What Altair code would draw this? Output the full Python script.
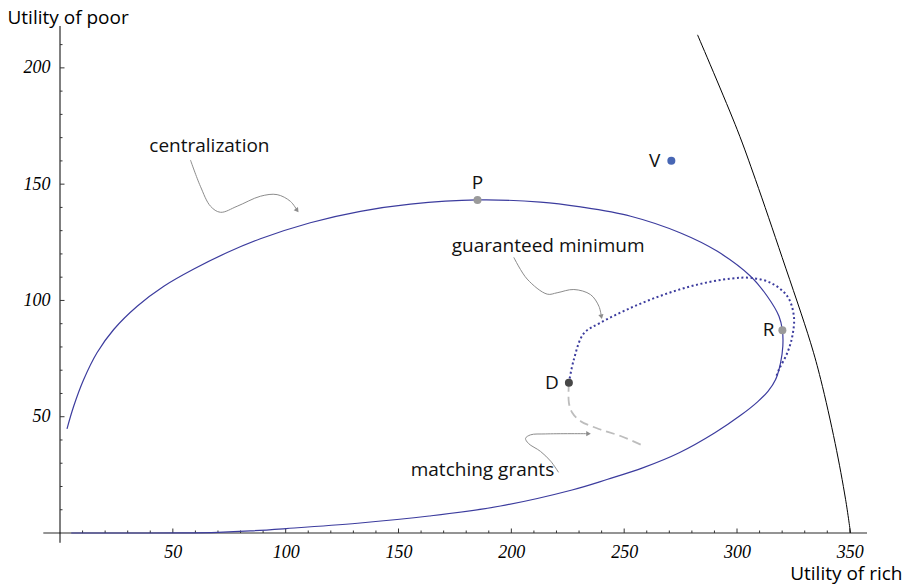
import altair as alt
import pandas as pd

# ---------------- data ----------------
# centralization curve (solid)
cent_x = [3.1, 6.1, 10.5, 16.4, 23.8, 34.2, 46.0, 59.3, 74.1, 88.8, 110.9, 133.1, 155.3,
          185.0, 212.9, 230.7, 252.9, 275.0, 291.3, 306.0, 313.4, 318.6, 320.1, 320.3,
          319.3, 317.1, 313.8, 309.1, 301.6, 290.2, 274.4, 258.5, 242.7, 226.9, 195.2,
          163.6, 131.9, 100.2, 84.4, 70.0, 55.0, 30.0, 5.0]
cent_y = [44.8, 54.6, 66.0, 77.5, 87.5, 97.5, 106.1, 113.5, 120.6, 126.5, 133.4, 138.3, 141.4,
          143.2, 142.3, 140.2, 136.2, 129.0, 121.1, 110.4, 101.8, 93.2, 87.2, 80.3,
          73.2, 66.0, 61.0, 56.4, 50.6, 43.1, 34.5, 28.1, 23.1, 18.5, 11.6,
          7.3, 4.2, 1.9, 0.9, 0.3, 0.05, 0.0, 0.0]

# guaranteed minimum (dotted)
gm_x = [225.5, 227.7, 232.1, 239.5, 252.9, 267.6, 282.4, 297.2, 306.0, 314.9, 322.3, 325.2,
        324.5, 322.3, 318.6, 317.1]
gm_y = [64.6, 74.6, 85.8, 90.4, 96.8, 102.5, 106.8, 109.4, 109.7, 107.6, 101.8, 93.2,
        84.6, 77.5, 70.3, 66.5]

# matching grants (dashed)
mg_x = [225.5, 225.5, 227.0, 230.7, 239.5, 248.4, 258.0]
mg_y = [64.6, 56.0, 51.7, 48.1, 44.5, 41.7, 37.7]

# frontier (black)
fr_x = [282.5, 300.1, 308.2, 320.0, 332.6, 337.1, 343.5, 348.1, 350.3]
fr_y = [214.2, 173.4, 151.9, 118.5, 81.8, 66.0, 38.5, 14.5, 0.0]

# labelled points
pt_name = ["P", "R", "D", "V"]
pt_x = [185.0, 320.1, 225.5, 270.9]
pt_y = [143.2, 87.2, 64.6, 160.1]
pt_color = ["#9a9a9a", "#9a9a9a", "#474747", "#4766b4"]

# annotations
ann_text = ["centralization", "guaranteed minimum", "matching grants"]
ann_x = [66.2, 216.3, 187.2]
ann_y = [166.2, 123.3, 26.9]

# annotation arrows
arr1_x = [57.8, 62.2, 66.7, 71.1, 78.5, 88.8, 96.2, 102.1, 105.1]
arr1_y = [160.4, 149.1, 140.5, 137.9, 140.5, 144.8, 145.5, 142.6, 138.7]
arr2_x = [201.1, 207.0, 215.9, 220.3, 227.7, 235.1, 238.8, 239.9]
arr2_y = [118.5, 109.2, 102.7, 103.3, 104.7, 102.5, 97.5, 93.0]
arr3_x = [220.9, 217.5, 212.9, 207.6, 206.3, 208.5, 215.2, 234.2]
arr3_y = [26.1, 30.8, 35.1, 38.5, 40.7, 42.2, 42.6, 42.7]
head_x = [105.1, 239.9, 234.2]
head_y = [138.7, 93.0, 42.7]
head_angle = [143, 167, 90]

# axes
x_major = [50, 100, 150, 200, 250, 300, 350]
x_minor = [v for v in range(10, 360, 10) if v % 50 != 0]
y_major = [50, 100, 150, 200]
y_minor = [v for v in range(10, 220, 10) if v % 50 != 0]
x_domain = [0, 357.6]
y_domain = [0, 218]
x_line = [-7.4, 357.6]
y_line = [-4.2, 218]

# ---------------- chart ----------------
BLUE = "#3c3c9e"
GRAY = "#8c8c8c"
SANS = "Open Sans"

xs = alt.Scale(domain=x_domain, nice=False, zero=False)
ys = alt.Scale(domain=y_domain, nice=False, zero=False)

x_axis = alt.Axis(values=x_major, domain=False, ticks=False, grid=False,
                  labelFont="Liberation Serif", labelFontStyle="italic", labelFontSize=18,
                  labelColor="black", labelPadding=10, labelFlush=False, labelOverlap=False,
                  title="Utility of rich", titleFont=SANS, titleFontSize=19,
                  titleFontWeight="normal", titleColor="black", titleX=842, titleY=46,
                  titleAlign="right", titleBaseline="alphabetic")
y_axis = alt.Axis(values=y_major, domain=False, ticks=False, grid=False,
                  labelFont="Liberation Serif", labelFontStyle="italic", labelFontSize=18,
                  labelColor="black", labelPadding=10, labelFlush=False, labelOverlap=False,
                  title="Utility of poor", titleFont=SANS, titleFontSize=19,
                  titleFontWeight="normal", titleColor="black", titleAngle=0,
                  titleX=-53, titleY=-2.5, titleAlign="left", titleBaseline="alphabetic")


def X(f="x"):
    return alt.X(f"{f}:Q", scale=xs, axis=x_axis)


def Y(f="y"):
    return alt.Y(f"{f}:Q", scale=ys, axis=y_axis)


def path_df(xv, yv, group="a"):
    return pd.DataFrame({"x": xv, "y": yv, "i": list(range(len(xv))), "g": group})


layers = []

# axis lines
layers.append(alt.Chart(pd.DataFrame({"x": [x_line[0]], "x2": [x_line[1]], "y": [0]}))
              .mark_rule(color="#707070", strokeWidth=1.5)
              .encode(x=X(), x2="x2:Q", y=Y()))
layers.append(alt.Chart(pd.DataFrame({"y": [y_line[0]], "y2": [y_line[1]], "x": [0]}))
              .mark_rule(color="black", strokeWidth=1)
              .encode(x=X(), y=Y(), y2="y2:Q"))

# ticks (pointing inward)
for vals, size in [(x_minor, 2.5), (x_major, 4.5)]:
    layers.append(alt.Chart(pd.DataFrame({"x": vals, "y": 0}))
                  .mark_tick(orient="vertical", size=size, thickness=1, yOffset=-size / 2,
                             color="#333333", opacity=1)
                  .encode(x=X(), y=Y()))
for vals, size in [(y_minor, 2.5), (y_major, 4.5)]:
    layers.append(alt.Chart(pd.DataFrame({"y": vals, "x": 0}))
                  .mark_tick(orient="horizontal", size=size, thickness=1, xOffset=size / 2,
                             color="#333333", opacity=1)
                  .encode(x=X(), y=Y()))

# frontier
layers.append(alt.Chart(path_df(fr_x, fr_y))
              .mark_line(color="black", strokeWidth=1, interpolate="catmull-rom")
              .encode(x=X(), y=Y(), order="i:Q"))

# centralization
layers.append(alt.Chart(path_df(cent_x, cent_y))
              .mark_line(color=BLUE, strokeWidth=1.2, interpolate="catmull-rom")
              .encode(x=X(), y=Y(), order="i:Q"))

# guaranteed minimum
layers.append(alt.Chart(path_df(gm_x, gm_y))
              .mark_line(color=BLUE, strokeWidth=2, strokeDash=[2, 2.6],
                         interpolate="catmull-rom")
              .encode(x=X(), y=Y(), order="i:Q"))

# matching grants
layers.append(alt.Chart(path_df(mg_x, mg_y))
              .mark_line(color="#bdbdbd", strokeWidth=1.8, strokeDash=[9, 5],
                         interpolate="catmull-rom")
              .encode(x=X(), y=Y(), order="i:Q"))

# arrows
arrows = pd.concat([path_df(arr1_x, arr1_y, "a1"), path_df(arr2_x, arr2_y, "a2"),
                    path_df(arr3_x, arr3_y, "a3")])
layers.append(alt.Chart(arrows)
              .mark_line(color=GRAY, strokeWidth=1, interpolate="catmull-rom")
              .encode(x=X(), y=Y(), order="i:Q", detail="g:N"))
layers.append(alt.Chart(pd.DataFrame({"x": head_x, "y": head_y, "a": head_angle}))
              .mark_point(shape="triangle-up", filled=True, size=28, color=GRAY, opacity=1)
              .encode(x=X(), y=Y(), angle=alt.Angle("a:Q", scale=None)))

# points
pts = pd.DataFrame({"x": pt_x, "y": pt_y, "name": pt_name, "c": pt_color})
layers.append(alt.Chart(pts)
              .mark_circle(size=64, opacity=1)
              .encode(x=X(), y=Y(), color=alt.Color("c:N", scale=None)))

label_style = {"P": dict(dy=-17, align="center"),
               "R": dict(dx=-8, align="right"),
               "D": dict(dx=-10, align="right"),
               "V": dict(dx=-11, align="right")}
for name in pt_name:
    st = label_style[name]
    layers.append(alt.Chart(pts[pts["name"] == name])
                  .mark_text(font=SANS, fontSize=19, color="#111111", baseline="middle", **st)
                  .encode(x=X(), y=Y(), text="name:N"))

# annotation texts
layers.append(alt.Chart(pd.DataFrame({"x": ann_x, "y": ann_y, "t": ann_text}))
              .mark_text(font=SANS, fontSize=19, color="#111111", baseline="middle",
                         align="center")
              .encode(x=X(), y=Y(), text="t:N"))

chart = (alt.layer(*layers)
         .properties(width=807, height=507,
                     padding={"left": 52, "top": 18, "right": 35, "bottom": 52},
                     autosize=alt.AutoSizeParams(type="none"),
                     background="white")
         .configure_view(stroke=None))

chart.save("out.html", embed_options={"renderer": "svg", "actions": False})
